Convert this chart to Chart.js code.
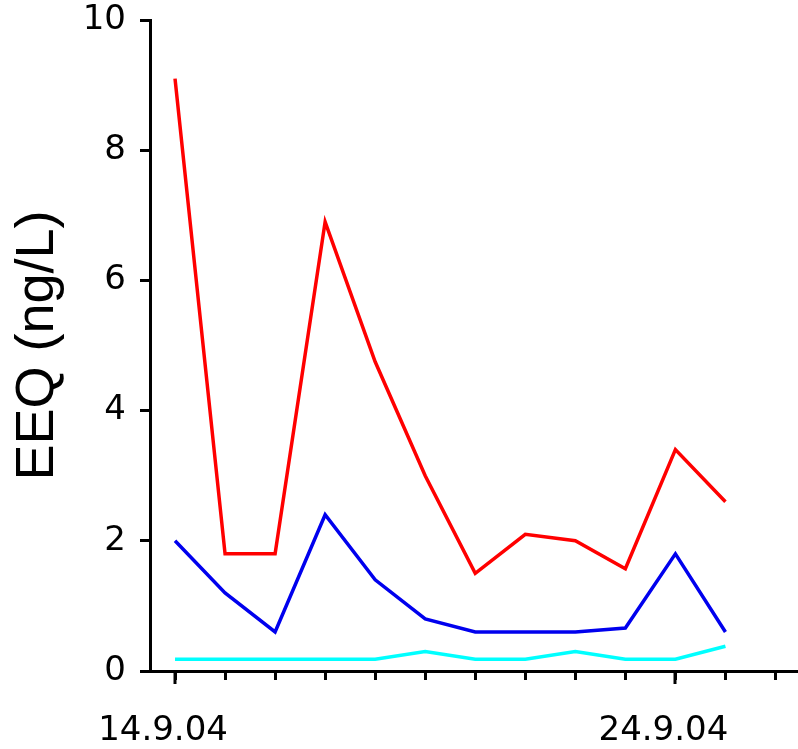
<!DOCTYPE html>
<html>
<head>
<meta charset="utf-8">
<script src="https://cdn.jsdelivr.net/npm/chart.js@4"></script>
<style>
html,body{margin:0;padding:0;background:#fff;}
#wrap{width:798px;height:749px;}
</style>
</head>
<body>
<div id="wrap"><canvas id="c" width="798" height="749"></canvas></div>
<script>
const days = [14,15,16,17,18,19,20,21,22,23,24,25];
const redSeries  = [9.1,1.8,1.8,6.9,4.75,3.0,1.5,2.1,2.0,1.57,3.4,2.6];
const blueSeries = [2.0,1.2,0.6,2.4,1.4,0.8,0.6,0.6,0.6,0.66,1.8,0.6];
const cyanSeries = [0.18,0.18,0.18,0.18,0.18,0.3,0.18,0.18,0.3,0.18,0.18,0.38];
const xTickDays = [14,15,16,17,18,19,20,21,22,23,24,25,26];
const xLabels = {14:'14.9.04', 24:'24.9.04'};
const yTicks = [0,2,4,6,8,10];
const yTitle = 'EEQ (ng/L)';

function pts(arr){ return arr.map((v,i)=>({x:days[i], y:v})); }

const longTicks = {
  id:'longTicks',
  afterDraw(chart){
    const xs = chart.scales.x, ctx = chart.ctx;
    const y0 = chart.chartArea.bottom;
    ctx.save();
    ctx.strokeStyle = '#000'; ctx.lineWidth = 3;
    Object.keys(xLabels).forEach(k=>{
      const px = Math.round(xs.getPixelForValue(+k));
      ctx.beginPath(); ctx.moveTo(px, y0); ctx.lineTo(px, y0+13); ctx.stroke();
    });
    ctx.restore();
  }
};

new Chart(document.getElementById('c'), {
  type:'line',
  data:{datasets:[
    {data:pts(redSeries), borderColor:'#ff0000', borderWidth:3.5, pointRadius:0, tension:0, fill:false},
    {data:pts(blueSeries), borderColor:'#0000ee', borderWidth:3.5, pointRadius:0, tension:0, fill:false},
    {data:pts(cyanSeries), borderColor:'#00ffff', borderWidth:3.5, pointRadius:0, tension:0, fill:false}
  ]},
  options:{
    responsive:false, animation:false, devicePixelRatio:1,
    layout:{padding:{top:20,right:0,left:0,bottom:0}},
    plugins:{legend:{display:false}, tooltip:{enabled:false}},
    scales:{
      x:{
        type:'linear', min:13.5, max:26.45,
        afterBuildTicks(s){ s.ticks = xTickDays.map(v=>({value:v})); },
        afterFit(s){ s.height = 78; s.paddingLeft = 0; s.paddingRight = 0; },
        border:{color:'#000', width:3},
        grid:{drawOnChartArea:false, drawTicks:true, tickLength:9, tickColor:'#000', tickWidth:3},
        ticks:{
          autoSkip:false, maxRotation:0, padding:31, labelOffset:-12,
          color:'#000', font:{family:'DejaVu Sans', size:34},
          callback:(v)=> xLabels[v] || ''
        }
      },
      y:{
        type:'linear', min:0, max:10,
        afterBuildTicks(s){ s.ticks = yTicks.map(v=>({value:v})); },
        afterFit(s){ s.width = 150; s.paddingTop = 0; s.paddingBottom = 0; },
        border:{color:'#000', width:3},
        grid:{drawOnChartArea:false, drawTicks:true, tickLength:10, tickColor:'#000', tickWidth:3},
        ticks:{padding:14, color:'#000', font:{family:'DejaVu Sans', size:34}},
        title:{display:true, text:yTitle, color:'#000', font:{family:'Liberation Sans', size:54}, padding:{top:6,bottom:0}}
      }
    }
  },
  plugins:[longTicks]
});
</script>
</body>
</html>
